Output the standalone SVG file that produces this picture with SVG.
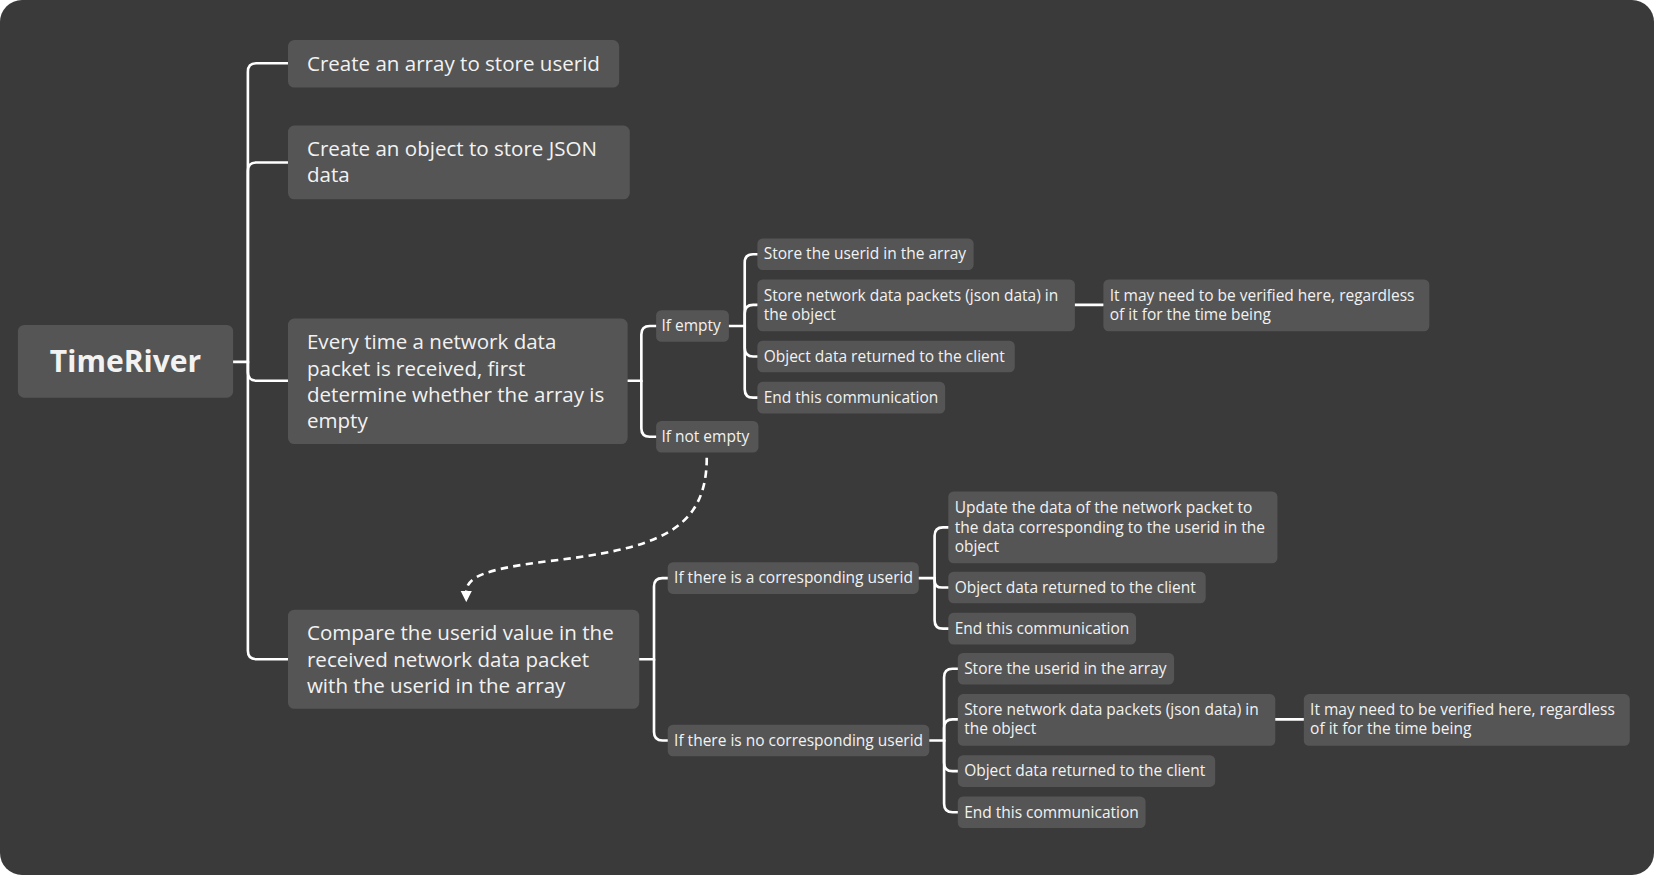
<svg xmlns="http://www.w3.org/2000/svg" width="1654" height="875" viewBox="0 0 1654 875">
<defs>
<style>
.bg{fill:#3a3a3a}
.n{fill:#555555}
.t{fill:#f2f2f2;font-family:"Open Sans",Lato,sans-serif}
.l{font-size:19.5px}
.s{font-size:14.7px}
.r{font-size:28.5px;font-weight:bold}
.c{fill:none;stroke:#ffffff;stroke-width:2.5;stroke-linecap:round}
.d{fill:none;stroke:#ffffff;stroke-width:2.5;stroke-dasharray:7 5}
</style>
<marker id="ah" viewBox="0 0 10 10" refX="2" refY="5" markerWidth="11" markerHeight="11" markerUnits="userSpaceOnUse" orient="auto">
<path d="M0,0 L10,5 L0,10 Z" fill="#ffffff"/>
</marker>
</defs>
<rect class="bg" x="0" y="0" width="1654" height="875" rx="22"/>
<g transform="scale(1.05485)">
<g id="connectors">
<path class="c" d="M221,343 H235 V68 Q235,60 243,60 H273"/>
<path class="c" d="M235,343 V162 Q235,154 243,154 H273"/>
<path class="c" d="M235,343 V353 Q235,361 243,361 H273"/>
<path class="c" d="M235,343 V617 Q235,625 243,625 H273"/>
<path class="c" d="M595,361 H608 V317 Q608,309 616,309 H622"/>
<path class="c" d="M608,361 V406 Q608,414 616,414 H622"/>
<path class="c" d="M691,309 H706 V249 Q706,241 714,241 H718"/>
<path class="c" d="M706,309 V297 Q706,289 714,289 H718"/>
<path class="c" d="M706,309 V330 Q706,338 714,338 H718"/>
<path class="c" d="M706,309 V369 Q706,377 714,377 H718"/>
<path class="c" d="M1019,289 H1046"/>
<path class="c" d="M606,625 H620 V556 Q620,548 628,548 H633"/>
<path class="c" d="M620,625 V694 Q620,702 628,702 H633"/>
<path class="c" d="M871,548 H886 V508 Q886,500 894,500 H899"/>
<path class="c" d="M886,548 V550 Q886,557 893,557 H899"/>
<path class="c" d="M886,548 V588 Q886,596 894,596 H899"/>
<path class="c" d="M881,702 H895 V642 Q895,634 903,634 H908"/>
<path class="c" d="M895,702 V690 Q895,682 903,682 H908"/>
<path class="c" d="M895,702 V723 Q895,731 903,731 H908"/>
<path class="c" d="M895,702 V762 Q895,770 903,770 H908"/>
<path class="c" d="M1209,682 H1236"/>
<path class="d" d="M670,434 C670,505 620,520 520,532 C455,540 442,548 442,562" marker-end="url(#ah)"/>
</g>
<g id="root"><rect class="n" x="17" y="308" width="204" height="69" rx="6"/><text class="t r" x="119" y="353" text-anchor="middle">TimeRiver</text></g>
<g id="n1"><rect class="n" x="273" y="38" width="314" height="45" rx="6"/><text class="t l" x="291" y="67">Create an array to store userid</text></g>
<g id="n2"><rect class="n" x="273" y="119" width="324" height="70" rx="6"/><text class="t l" x="291" y="148">Create an object to store JSON</text><text class="t l" x="291" y="173">data</text></g>
<g id="n3"><rect class="n" x="273" y="302" width="322" height="119" rx="6"/><text class="t l" x="291" y="331">Every time a network data</text><text class="t l" x="291" y="356">packet is received, first</text><text class="t l" x="291" y="381">determine whether the array is</text><text class="t l" x="291" y="406">empty</text></g>
<g id="n4"><rect class="n" x="273" y="578" width="333" height="94" rx="6"/><text class="t l" x="291" y="607">Compare the userid value in the</text><text class="t l" x="291" y="632">received network data packet</text><text class="t l" x="291" y="657">with the userid in the array</text></g>
<g id="ifempty"><rect class="n" x="622" y="294" width="69" height="30" rx="5"/><text class="t s" x="627" y="314">If empty</text></g>
<g id="ifnotempty"><rect class="n" x="622" y="399" width="97" height="30" rx="5"/><text class="t s" x="627" y="419">If not empty</text></g>
<g id="a1"><rect class="n" x="718" y="226" width="205" height="30" rx="5"/><text class="t s" x="724" y="246">Store the userid in the array</text></g>
<g id="a2"><rect class="n" x="718" y="265" width="301" height="49" rx="5"/><text class="t s" x="724" y="285">Store network data packets (json data) in</text><text class="t s" x="724" y="303">the object</text></g>
<g id="a3"><rect class="n" x="718" y="323" width="244" height="30" rx="5"/><text class="t s" x="724" y="343">Object data returned to the client</text></g>
<g id="a4"><rect class="n" x="718" y="362" width="178" height="30" rx="5"/><text class="t s" x="724" y="382">End this communication</text></g>
<g id="a5"><rect class="n" x="1046" y="265" width="309" height="49" rx="5"/><text class="t s" x="1052" y="285">It may need to be verified here, regardless</text><text class="t s" x="1052" y="303">of it for the time being</text></g>
<g id="ifcorr"><rect class="n" x="633" y="533" width="238" height="30" rx="5"/><text class="t s" x="639" y="553">If there is a corresponding userid</text></g>
<g id="ifnocorr"><rect class="n" x="633" y="687" width="248" height="30" rx="5"/><text class="t s" x="639" y="707">If there is no corresponding userid</text></g>
<g id="b1"><rect class="n" x="899" y="466" width="312" height="68" rx="5"/><text class="t s" x="905" y="486">Update the data of the network packet to</text><text class="t s" x="905" y="505">the data corresponding to the userid in the</text><text class="t s" x="905" y="523">object</text></g>
<g id="b2"><rect class="n" x="899" y="542" width="244" height="30" rx="5"/><text class="t s" x="905" y="562">Object data returned to the client</text></g>
<g id="b3"><rect class="n" x="899" y="581" width="178" height="30" rx="5"/><text class="t s" x="905" y="601">End this communication</text></g>
<g id="c1"><rect class="n" x="908" y="619" width="205" height="30" rx="5"/><text class="t s" x="914" y="639">Store the userid in the array</text></g>
<g id="c2"><rect class="n" x="908" y="658" width="301" height="49" rx="5"/><text class="t s" x="914" y="678">Store network data packets (json data) in</text><text class="t s" x="914" y="696">the object</text></g>
<g id="c3"><rect class="n" x="908" y="716" width="244" height="30" rx="5"/><text class="t s" x="914" y="736">Object data returned to the client</text></g>
<g id="c4"><rect class="n" x="908" y="755" width="178" height="30" rx="5"/><text class="t s" x="914" y="775">End this communication</text></g>
<g id="c5"><rect class="n" x="1236" y="658" width="309" height="49" rx="5"/><text class="t s" x="1242" y="678">It may need to be verified here, regardless</text><text class="t s" x="1242" y="696">of it for the time being</text></g>
</g>
</svg>
